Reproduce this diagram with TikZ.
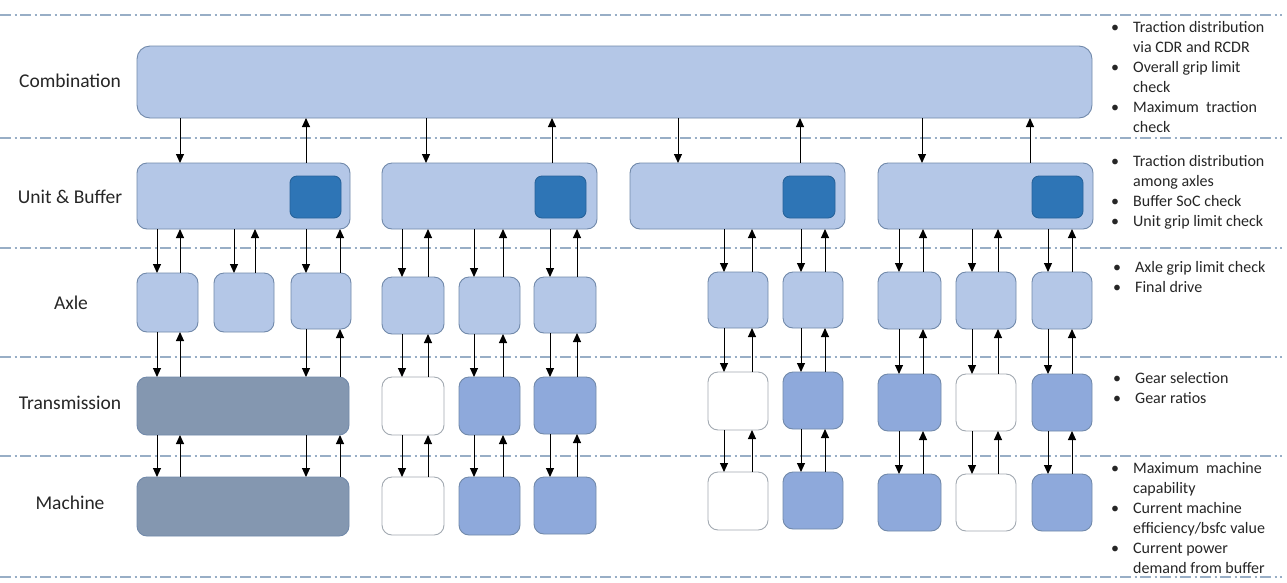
\documentclass[tikz,border=0pt]{standalone}
\usepackage{fontspec}
\setmainfont{Carlito}
\usetikzlibrary{arrows.meta}
\definecolor{lightfill}{HTML}{B4C7E7}
\definecolor{midfill}{HTML}{8EA9DB}
\definecolor{slatefill}{HTML}{8497B0}
\definecolor{darkfill}{HTML}{2E75B6}
\definecolor{boxline}{HTML}{7189AA}
\definecolor{greyline}{HTML}{A2A9B1}
\definecolor{sepline}{HTML}{98AEC6}
\definecolor{txt}{HTML}{262626}
% a block given by its corners (x1,y1) and (x2,y2), in pixel units
\newcommand\blk[6]{\node[#1, minimum width={(#5)-(#3)}, minimum height={(#6)-(#4)}] (#2) at ({((#3)+(#5))/2},{((#4)+(#6))/2}) {};}
% downward and upward connectors at a given x between an upper and a lower block
\newcommand\dnarr[3]{\draw[flow] (#1.south -| #3,0) -- (#2.north -| #3,0);}
\newcommand\uparr[3]{\draw[flow] (#2.north -| #3,0) -- (#1.south -| #3,0);}
\begin{document}
\begin{tikzpicture}[x=1pt,y=-1pt,
  blockbase/.style={draw=boxline, line width=0.9pt, rounded corners=10pt, inner sep=0pt, outer sep=0pt},
  lightbox/.style={blockbase, fill=lightfill},
  midbox/.style={blockbase, fill=midfill},
  slatebox/.style={blockbase, fill=slatefill},
  whitebox/.style={blockbase, fill=white, draw=greyline},
  darkbox/.style={blockbase, fill=darkfill, draw=darkfill!85!black, rounded corners=7pt},
  combbox/.style={blockbase, fill=lightfill, rounded corners=13pt},
  flow/.style={draw=black, line width=1pt, -{Triangle[length=9pt,width=8pt]}},
  sep/.style={draw=sepline, line width=1.1pt, dash pattern=on 11pt off 3.5pt on 2pt off 3.5pt},
  lbl/.style={text=txt, font=\fontsize{19.5}{23}\selectfont, inner sep=0pt},
  notes/.style={text=txt, anchor=base west, inner sep=0pt, font=\fontsize{16}{20}\selectfont}
]
\useasboundingbox (0,0) rectangle (1287,582);
\fill[white] (0,0) rectangle (1287,582);

% layer separators
\foreach \yy in {15,138,248,357,456,577}
  \draw[sep] (0,\yy) -- (1282,\yy);

% layer names
\node[lbl] (lcomb) at (70,81) {Combination};
\node[lbl] (lunit) at (70,197) {Unit \& Buffer};
\node[lbl] (laxle) at (71,303) {Axle};
\node[lbl] (ltrans) at (70,403) {Transmission};
\node[lbl] (lmach) at (70,503) {Machine};

% combination
\blk{combbox}{comb}{137}{46}{1092}{118}

% units with their buffers
\blk{lightbox}{u1}{137}{163}{350}{229}
\blk{lightbox}{u2}{382}{163}{597}{229}
\blk{lightbox}{u3}{630}{163}{845}{229}
\blk{lightbox}{u4}{878}{163}{1093}{229}
\blk{darkbox}{b1}{290}{176}{341}{218}
\blk{darkbox}{b2}{535}{176}{586}{218}
\blk{darkbox}{b3}{783}{176}{835}{218}
\blk{darkbox}{b4}{1032}{176}{1083}{218}

% unit 1
\blk{lightbox}{a11}{137}{273}{198}{332}
\blk{lightbox}{a12}{214}{273}{274}{332}
\blk{lightbox}{a13}{291}{273}{351}{329}
\blk{slatebox}{t1}{137}{377}{349}{435}
\blk{slatebox}{m1}{137}{477}{349}{536}

% unit 2
\blk{lightbox}{a21}{382}{277}{444}{334}
\blk{lightbox}{a22}{459}{277}{520}{334}
\blk{lightbox}{a23}{534}{277}{596}{333}
\blk{whitebox}{t21}{382}{377}{444}{435}
\blk{midbox}{t22}{459}{377}{520}{435}
\blk{midbox}{t23}{534}{377}{596}{434}
\blk{whitebox}{m21}{382}{477}{444}{535}
\blk{midbox}{m22}{459}{477}{520}{535}
\blk{midbox}{m23}{534}{477}{596}{534}

% unit 3
\blk{lightbox}{a31}{708}{272}{768}{328}
\blk{lightbox}{a32}{783}{272}{843}{328}
\blk{whitebox}{t31}{708}{372}{768}{430}
\blk{midbox}{t32}{783}{372}{843}{429}
\blk{whitebox}{m31}{708}{472}{768}{530}
\blk{midbox}{m32}{783}{472}{843}{529}

% unit 4
\blk{lightbox}{a41}{878}{272}{941}{329}
\blk{lightbox}{a42}{956}{272}{1016}{329}
\blk{lightbox}{a43}{1032}{272}{1092}{329}
\blk{midbox}{t41}{878}{374}{941}{431}
\blk{whitebox}{t42}{956}{374}{1016}{431}
\blk{midbox}{t43}{1032}{374}{1092}{431}
\blk{midbox}{m41}{878}{474}{941}{531}
\blk{whitebox}{m42}{956}{474}{1016}{531}
\blk{midbox}{m43}{1032}{474}{1092}{531}

% combination <-> units
\dnarr{comb}{u1}{180} \uparr{comb}{u1}{306}
\dnarr{comb}{u2}{426} \uparr{comb}{u2}{552}
\dnarr{comb}{u3}{678} \uparr{comb}{u3}{800}
\dnarr{comb}{u4}{922} \uparr{comb}{u4}{1030}

% unit 1 chain
\dnarr{u1}{a11}{157} \uparr{u1}{a11}{180}
\dnarr{u1}{a12}{234} \uparr{u1}{a12}{255}
\dnarr{u1}{a13}{306} \uparr{u1}{a13}{340}
\dnarr{a11}{t1}{157} \uparr{a11}{t1}{180}
\dnarr{a13}{t1}{306} \uparr{a13}{t1}{340}
\dnarr{t1}{m1}{157} \uparr{t1}{m1}{180}
\dnarr{t1}{m1}{306} \uparr{t1}{m1}{340}

% unit 2 chains
\dnarr{u2}{a21}{402} \uparr{u2}{a21}{428}
\dnarr{u2}{a22}{474} \uparr{u2}{a22}{503}
\dnarr{u2}{a23}{550} \uparr{u2}{a23}{577}
\dnarr{a21}{t21}{402} \uparr{a21}{t21}{428}
\dnarr{a22}{t22}{474} \uparr{a22}{t22}{503}
\dnarr{a23}{t23}{550} \uparr{a23}{t23}{577}
\dnarr{t21}{m21}{402} \uparr{t21}{m21}{428}
\dnarr{t22}{m22}{474} \uparr{t22}{m22}{503}
\dnarr{t23}{m23}{550} \uparr{t23}{m23}{577}

% unit 3 chains
\dnarr{u3}{a31}{724} \uparr{u3}{a31}{752}
\dnarr{u3}{a32}{801} \uparr{u3}{a32}{825}
\dnarr{a31}{t31}{724} \uparr{a31}{t31}{752}
\dnarr{a32}{t32}{801} \uparr{a32}{t32}{825}
\dnarr{t31}{m31}{724} \uparr{t31}{m31}{752}
\dnarr{t32}{m32}{801} \uparr{t32}{m32}{825}

% unit 4 chains
\dnarr{u4}{a41}{899} \uparr{u4}{a41}{923}
\dnarr{u4}{a42}{972} \uparr{u4}{a42}{998}
\dnarr{u4}{a43}{1048} \uparr{u4}{a43}{1072}
\dnarr{a41}{t41}{899} \uparr{a41}{t41}{923}
\dnarr{a42}{t42}{972} \uparr{a42}{t42}{998}
\dnarr{a43}{t43}{1048} \uparr{a43}{t43}{1072}
\dnarr{t41}{m41}{899} \uparr{t41}{m41}{923}
\dnarr{t42}{m42}{972} \uparr{t42}{m42}{998}
\dnarr{t43}{m43}{1048} \uparr{t43}{m43}{1072}

% notes per layer
\node[notes] (ncomb) at (1111,32) {\begin{tabular}[t]{@{}l@{\hspace{14pt}}l@{}}
 • & Traction distribution\\ & via CDR and RCDR\\
 • & Overall grip limit\\ & check\\
 • & Maximum\ \ traction\\ & check\end{tabular}};
\node[notes] (nunit) at (1111,166) {\begin{tabular}[t]{@{}l@{\hspace{14pt}}l@{}}
 • & Traction distribution\\ & among axles\\
 • & Buffer SoC check\\
 • & Unit grip limit check\end{tabular}};
\node[notes] (naxle) at (1113,272) {\begin{tabular}[t]{@{}l@{\hspace{14pt}}l@{}}
 • & Axle grip limit check\\
 • & Final drive\end{tabular}};
\node[notes] (ntrans) at (1113,383) {\begin{tabular}[t]{@{}l@{\hspace{14pt}}l@{}}
 • & Gear selection\\
 • & Gear ratios\end{tabular}};
\node[notes] (nmach) at (1111,473) {\begin{tabular}[t]{@{}l@{\hspace{14pt}}l@{}}
 • & Maximum\ \ machine\\ & capability\\
 • & Current machine\\ & efficiency/bsfc value\\
 • & Current power\\ & demand from buffer\end{tabular}};
\end{tikzpicture}
\end{document}
